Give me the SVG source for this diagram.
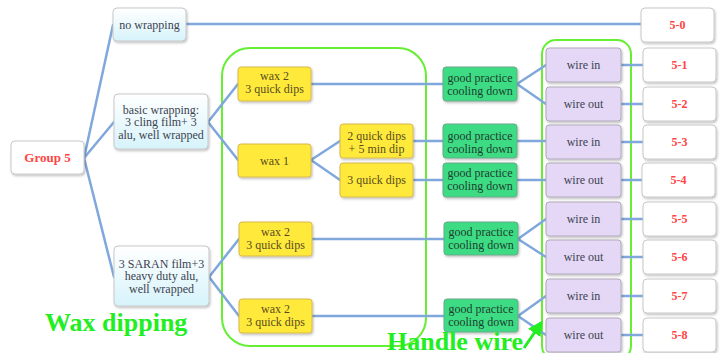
<svg xmlns="http://www.w3.org/2000/svg" width="724" height="353" viewBox="0 0 724 353">
<defs>
<linearGradient id="wrapG" x1="0" y1="0" x2="0" y2="1"><stop offset="0" stop-color="#ffffff"/><stop offset="1" stop-color="#d6f3fb"/></linearGradient>
<filter id="sh" x="-10%" y="-10%" width="130%" height="140%"><feDropShadow dx="1" dy="1.5" stdDeviation="1" flood-color="#000" flood-opacity="0.25"/></filter>
<marker id="ah" viewBox="0 0 10 10" refX="8" refY="5" markerWidth="5" markerHeight="5" orient="auto"><path d="M0,0 L10,5 L0,10 z" fill="#22ee22"/></marker>
<style>
.b{stroke:#c8c8c8;stroke-width:1;filter:url(#sh)}
.wh{fill:#ffffff}
.wr{fill:url(#wrapG)}
.ye{fill:#ffea3a;stroke:#d8b84a}
.gr{fill:#3ddc84;stroke:#6aa88a}
.pu{fill:#e4d8f6;stroke:#b0a8b8}
.t{font-family:"Liberation Serif",serif;font-size:12px;fill:#3d4350;text-anchor:middle}
.ty{fill:#5a4a20}
.tg{fill:#1e3e2e}
.tr{font-family:"Liberation Serif",serif;font-size:12px;font-weight:bold;fill:#ff4444;text-anchor:middle}
.c line{stroke:#80a8dc;stroke-width:2.5;stroke-linecap:round}
.frame{fill:none;stroke:#66ee33;stroke-width:2}
.big{font-family:"Liberation Serif",serif;font-weight:bold;font-size:26px;fill:#22ee22}
</style>
</defs>
<rect width="724" height="353" fill="#ffffff"/>

<rect class="frame" x="222" y="48" width="204" height="298" rx="28"/>
<rect class="frame" x="542" y="40" width="89" height="320" rx="14"/>

<g class="c" id="connectors">
<line x1="84" y1="158" x2="113" y2="25"/>
<line x1="84" y1="158" x2="114" y2="122"/>
<line x1="84" y1="158" x2="114" y2="277"/>
<line x1="186" y1="24" x2="641" y2="24"/>
<line x1="208" y1="122" x2="238" y2="84"/>
<line x1="208" y1="122" x2="238" y2="160"/>
<line x1="209" y1="277" x2="239" y2="239"/>
<line x1="209" y1="277" x2="239" y2="316"/>
<line x1="311" y1="160" x2="340" y2="141"/>
<line x1="311" y1="160" x2="340" y2="180"/>
<line x1="311" y1="84" x2="443" y2="84"/>
<line x1="413" y1="141" x2="443" y2="141"/>
<line x1="413" y1="180" x2="443" y2="180"/>
<line x1="312" y1="239" x2="444" y2="239"/>
<line x1="312" y1="316" x2="444" y2="316"/>
<line x1="517" y1="84" x2="546" y2="65"/>
<line x1="517" y1="84" x2="546" y2="104"/>
<line x1="517" y1="141" x2="546" y2="141"/>
<line x1="517" y1="180" x2="546" y2="180"/>
<line x1="518" y1="239" x2="546" y2="219"/>
<line x1="518" y1="239" x2="546" y2="257"/>
<line x1="518" y1="316" x2="546" y2="296"/>
<line x1="518" y1="316" x2="546" y2="335"/>
<line x1="621" y1="65" x2="643" y2="65"/>
<line x1="621" y1="104" x2="643" y2="104"/>
<line x1="621" y1="142" x2="643" y2="142"/>
<line x1="621" y1="180" x2="643" y2="180"/>
<line x1="621" y1="219" x2="643" y2="219"/>
<line x1="621" y1="257" x2="643" y2="257"/>
<line x1="621" y1="296" x2="643" y2="296"/>
<line x1="621" y1="335" x2="643" y2="335"/>
</g>

<g id="group5"><rect class="b wh" x="11" y="141" width="73" height="33" rx="4"/><text class="tr" x="47.5" y="162" style="font-size:13px">Group 5</text></g>
<g id="nowrap"><rect class="b wr" x="113" y="8" width="73" height="33" rx="4"/><text class="t" x="149.5" y="29">no wrapping</text></g>
<g id="basic"><rect class="b wr" x="114" y="94" width="94" height="55" rx="4"/><text class="t" x="161" y="113.5">basic wrapping:</text><text class="t" x="161" y="126">3 cling film+ 3</text><text class="t" x="161" y="138.5">alu, well wrapped</text></g>
<g id="saran"><rect class="b wr" x="114" y="246" width="95" height="60" rx="4"/><text class="t" x="161.5" y="267.5">3 SARAN film+3</text><text class="t" x="161.5" y="280">heavy duty alu,</text><text class="t" x="161.5" y="292.5">well wrapped</text></g>

<g id="wax2a"><rect class="b ye" x="238" y="67" width="73" height="34" rx="3"/><text class="t ty" x="274.5" y="80">wax 2</text><text class="t ty" x="274.5" y="93">3 quick dips</text></g>
<g id="wax1"><rect class="b ye" x="238" y="144" width="73" height="33" rx="3"/><text class="t ty" x="274.5" y="165">wax 1</text></g>
<g id="dips2"><rect class="b ye" x="340" y="124" width="73" height="34" rx="3"/><text class="t ty" x="376.5" y="139.5">2 quick dips</text><text class="t ty" x="376.5" y="152.5">+ 5 min dip</text></g>
<g id="dips3"><rect class="b ye" x="340" y="163" width="73" height="34" rx="3"/><text class="t ty" x="376.5" y="184">3 quick dips</text></g>
<g id="wax2b"><rect class="b ye" x="239" y="222" width="73" height="34" rx="3"/><text class="t ty" x="275.5" y="235.5">wax 2</text><text class="t ty" x="275.5" y="248.5">3 quick dips</text></g>
<g id="wax2c"><rect class="b ye" x="239" y="299" width="73" height="34" rx="3"/><text class="t ty" x="275.5" y="313">wax 2</text><text class="t ty" x="275.5" y="326">3 quick dips</text></g>

<g id="gp1"><rect class="b gr" x="443" y="67" width="74" height="34" rx="3"/><text class="t tg" x="480" y="81.5">good practice</text><text class="t tg" x="480" y="94.5">cooling down</text></g>
<g id="gp2"><rect class="b gr" x="443" y="124" width="74" height="34" rx="3"/><text class="t tg" x="480" y="139.5">good practice</text><text class="t tg" x="480" y="152.5">cooling down</text></g>
<g id="gp3"><rect class="b gr" x="443" y="163" width="74" height="34" rx="3"/><text class="t tg" x="480" y="176.5">good practice</text><text class="t tg" x="480" y="189.5">cooling down</text></g>
<g id="gp4"><rect class="b gr" x="444" y="222" width="74" height="33" rx="3"/><text class="t tg" x="481" y="235.5">good practice</text><text class="t tg" x="481" y="248.5">cooling down</text></g>
<g id="gp5"><rect class="b gr" x="444" y="299" width="74" height="33" rx="3"/><text class="t tg" x="481" y="312.5">good practice</text><text class="t tg" x="481" y="325.5">cooling down</text></g>

<g id="w1"><rect class="b pu" x="546" y="48" width="75" height="34" rx="3"/><text class="t" x="583.5" y="69">wire in</text></g>
<g id="w2"><rect class="b pu" x="546" y="87" width="75" height="34" rx="3"/><text class="t" x="583.5" y="108">wire out</text></g>
<g id="w3"><rect class="b pu" x="546" y="125" width="75" height="34" rx="3"/><text class="t" x="583.5" y="146">wire in</text></g>
<g id="w4"><rect class="b pu" x="546" y="163" width="75" height="34" rx="3"/><text class="t" x="583.5" y="184">wire out</text></g>
<g id="w5"><rect class="b pu" x="546" y="202" width="75" height="34" rx="3"/><text class="t" x="583.5" y="223">wire in</text></g>
<g id="w6"><rect class="b pu" x="546" y="240" width="75" height="34" rx="3"/><text class="t" x="583.5" y="261">wire out</text></g>
<g id="w7"><rect class="b pu" x="546" y="279" width="75" height="34" rx="3"/><text class="t" x="583.5" y="300">wire in</text></g>
<g id="w8"><rect class="b pu" x="546" y="318" width="75" height="34" rx="3"/><text class="t" x="583.5" y="339">wire out</text></g>

<g id="o0"><rect class="b wh" x="641" y="8" width="73" height="34" rx="4"/><text class="tr" x="677.5" y="29">5-0</text></g>
<g id="o1"><rect class="b wh" x="643" y="48" width="73" height="34" rx="4"/><text class="tr" x="679.5" y="69">5-1</text></g>
<g id="o2"><rect class="b wh" x="643" y="87" width="73" height="34" rx="4"/><text class="tr" x="679.5" y="108">5-2</text></g>
<g id="o3"><rect class="b wh" x="643" y="125" width="73" height="34" rx="4"/><text class="tr" x="679.5" y="146">5-3</text></g>
<g id="o4"><rect class="b wh" x="642" y="163" width="73" height="34" rx="4"/><text class="tr" x="678.5" y="184">5-4</text></g>
<g id="o5"><rect class="b wh" x="643" y="202" width="73" height="34" rx="4"/><text class="tr" x="679.5" y="223">5-5</text></g>
<g id="o6"><rect class="b wh" x="643" y="240" width="73" height="34" rx="4"/><text class="tr" x="679.5" y="261">5-6</text></g>
<g id="o7"><rect class="b wh" x="643" y="279" width="73" height="34" rx="4"/><text class="tr" x="679.5" y="300">5-7</text></g>
<g id="o8"><rect class="b wh" x="643" y="318" width="73" height="34" rx="4"/><text class="tr" x="679.5" y="339">5-8</text></g>

<text class="big" x="45" y="331">Wax dipping</text>
<text class="big" x="387" y="350">Handle wire</text>
<line x1="524" y1="348" x2="541" y2="323" stroke="#22ee22" stroke-width="3" marker-end="url(#ah)"/>
</svg>
